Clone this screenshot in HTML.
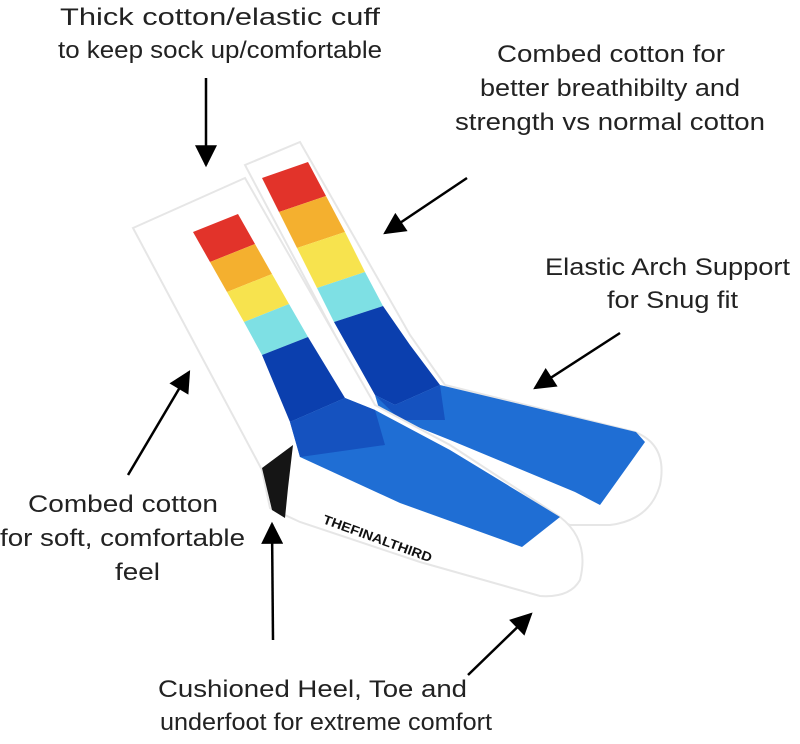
<!DOCTYPE html>
<html><head><meta charset="utf-8"><style>html,body{margin:0;padding:0;background:#fff}svg{display:block}</style></head>
<body>
<svg width="800" height="744" viewBox="0 0 800 744" xmlns="http://www.w3.org/2000/svg">
<defs><marker id="ah" viewBox="0 0 10 10" refX="9" refY="5" markerUnits="userSpaceOnUse" markerWidth="24" markerHeight="22" orient="auto"><path d="M0,0 L10,5 L0,10 z" fill="#000"/></marker></defs>
<g font-family="Liberation Sans, sans-serif" font-size="24" fill="#222" font-weight="300">
<text x="60" y="25" textLength="320" lengthAdjust="spacingAndGlyphs">Thick cotton/elastic cuff</text>
<text x="58" y="58" textLength="324" lengthAdjust="spacingAndGlyphs">to keep sock up/comfortable</text>
<text x="497" y="62" textLength="228" lengthAdjust="spacingAndGlyphs">Combed cotton for</text>
<text x="480" y="96" textLength="260" lengthAdjust="spacingAndGlyphs">better breathibilty and</text>
<text x="455" y="130" textLength="310" lengthAdjust="spacingAndGlyphs">strength vs normal cotton</text>
<text x="545" y="275" textLength="245" lengthAdjust="spacingAndGlyphs">Elastic Arch Support</text>
<text x="607" y="308" textLength="131" lengthAdjust="spacingAndGlyphs">for Snug fit</text>
<text x="28" y="512" textLength="190" lengthAdjust="spacingAndGlyphs">Combed cotton</text>
<text x="0" y="546" textLength="245" lengthAdjust="spacingAndGlyphs">for soft, comfortable</text>
<text x="115" y="580" textLength="45" lengthAdjust="spacingAndGlyphs">feel</text>
<text x="158" y="697" textLength="309" lengthAdjust="spacingAndGlyphs">Cushioned Heel, Toe and</text>
<text x="160" y="730" textLength="332" lengthAdjust="spacingAndGlyphs">underfoot for extreme comfort</text>
</g>
<!-- back sock -->
<path d="M245,165 L300,142 L410,335 L445,385 L635,432 Q668,445 660,485 Q650,520 610,525 L570,525 L450,470 L380,420 Z" fill="#fff" stroke="#e6e6e6" stroke-width="2"/>
<polygon points="262,178 308,162 326,196 279,212" fill="#e2332a"/>
<polygon points="279,212 326,196 345,232 297,248" fill="#f4b02f"/>
<polygon points="297,248 345,232 365,272 317,288" fill="#f7e34e"/>
<polygon points="317,288 365,272 383,306 334,322" fill="#7ee0e4"/>
<polygon points="334,322 383,306 410,345 440,385 395,405 375,395" fill="#0b3fae"/>
<polygon points="375,395 395,405 440,385 636,432 645,442 600,505 575,492 450,440 380,412" fill="#1f6ed4"/>
<polygon points="375,395 395,405 440,385 445,420 400,420" fill="#1552bf"/>
<polygon points="372,405 388,412 380,422" fill="#111"/>
<!-- front sock -->
<path d="M133,228 L245,178 L375,405 L450,445 L560,517 Q590,540 580,580 Q570,598 540,596 L420,562 L300,522 L270,508 L262,470 Z" fill="#fff" stroke="#e6e6e6" stroke-width="2"/>
<polygon points="193,232 238,214 255,244 210,262" fill="#e2332a"/>
<polygon points="210,262 255,244 272,274 227,292" fill="#f4b02f"/>
<polygon points="227,292 272,274 289,304 244,322" fill="#f7e34e"/>
<polygon points="244,322 289,304 308,337 262,355" fill="#7ee0e4"/>
<polygon points="262,355 308,337 345,398 290,422" fill="#0b3fae"/>
<polygon points="290,422 345,398 375,410 450,450 560,517 522,547 400,503 300,457" fill="#1f6ed4"/>
<polygon points="290,422 345,398 375,410 385,445 300,457" fill="#1552bf"/>
<polygon points="262,468 293,445 288,488 285,518 272,510" fill="#151515"/>
<text x="322" y="523" font-family="Liberation Sans, sans-serif" font-size="13" font-weight="bold" fill="#111" transform="rotate(20 322 523)" textLength="115" lengthAdjust="spacingAndGlyphs">THEFINALTHIRD</text>
<!-- arrows -->
<g stroke="#000" stroke-width="2.5" fill="none" marker-end="url(#ah)">
<line x1="206" y1="78" x2="206" y2="165"/>
<line x1="467" y1="178" x2="385" y2="233"/>
<line x1="620" y1="333" x2="535" y2="388"/>
<line x1="128" y1="475" x2="189" y2="372"/>
<line x1="273" y1="640" x2="272" y2="524"/>
<line x1="468" y1="675" x2="531" y2="614"/>
</g>
</svg>
</body></html>
